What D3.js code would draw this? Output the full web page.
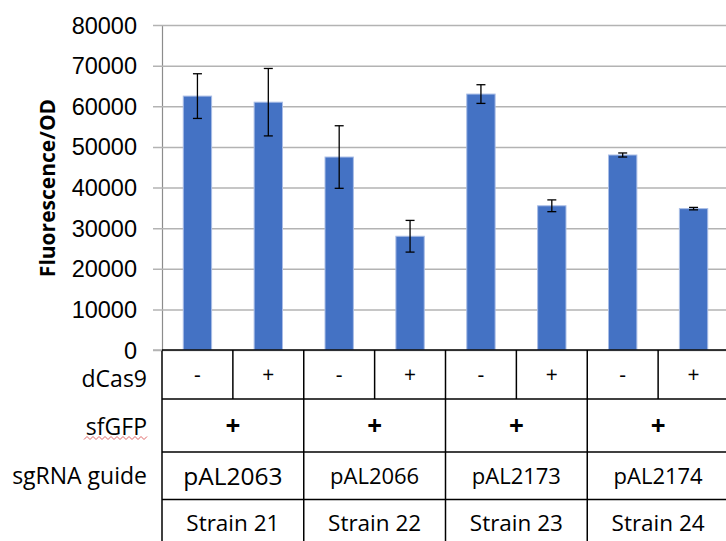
<!DOCTYPE html>
<html>
<head>
<meta charset="utf-8">
<script src="https://cdn.jsdelivr.net/npm/d3@7"></script>
<style>
  html, body { margin: 0; padding: 0; background: #fff; }
  svg { display: block; font-family: "Open Sans", Lato, sans-serif; }
</style>
</head>
<body>
<svg id="chart" width="726" height="541"></svg>
<script>
// Fluorescence/OD per strain, without (-) and with (+) dCas9
const strains   = ["Strain 21", "Strain 22", "Strain 23", "Strain 24"];
const guides    = ["pAL2063", "pAL2066", "pAL2173", "pAL2174"];
const sfGFP     = ["+", "+", "+", "+"];
const dCas9     = ["-", "+", "-", "+", "-", "+", "-", "+"];
const values    = [62500, 61000, 47500, 28000, 63000, 35500, 48000, 34800];
const errors    = [5500, 8300, 7700, 3900, 2300, 1450, 500, 300];
const yTicks    = [0, 10000, 20000, 30000, 40000, 50000, 60000, 70000, 80000];

const bars = values.map((v, i) => ({ id: i, strain: Math.floor(i / 2), dcas9: dCas9[i], value: v, err: errors[i] }));

const svg = d3.select("#chart");
const plotLeft = 162, plotRight = 729, plotTop = 25, base = 350;

const x = d3.scaleBand().domain(bars.map(d => d.id)).range([plotLeft, plotRight])
  .paddingInner(0.6).paddingOuter(0.3);
const xStrain = d3.scaleBand().domain(d3.range(strains.length)).range([plotLeft, plotRight]);
const y = d3.scaleLinear().domain([0, 80000]).range([base, plotTop]);

// horizontal gridlines with short ticks left of the axis
const yAxis = d3.axisLeft(y).tickValues(yTicks).tickFormat(d3.format("d"))
  .tickSize(-(726 - plotLeft)).tickSizeOuter(0);
const gy = svg.append("g").attr("transform", `translate(${plotLeft},0)`).call(yAxis);
gy.select(".domain").attr("stroke", "#8c8c8c").attr("stroke-width", 1.2);
gy.selectAll(".tick line").attr("stroke", "#b3b3b3").attr("stroke-width", 1.5).attr("x1", -9);
gy.selectAll(".tick text").attr("font-size", 23.5).attr("fill", "#000").attr("x", -25).attr("dy", "0.34em");

// y axis title
svg.append("text")
  .attr("transform", "translate(55,188) rotate(-90)")
  .attr("text-anchor", "middle")
  .attr("font-size", 21).attr("font-weight", "bold")
  .text("Fluorescence/OD");

// bars
svg.append("g").selectAll("rect").data(bars).join("rect")
  .attr("x", d => x(d.id)).attr("width", x.bandwidth())
  .attr("y", d => y(d.value)).attr("height", d => y(0) - y(d.value))
  .attr("fill", "#4472c4").attr("stroke", "#a9bde6").attr("stroke-width", 1);

// error bars
const eb = svg.append("g").attr("stroke", "#000").attr("stroke-width", 1.3);
bars.forEach(d => {
  const cx = x(d.id) + x.bandwidth() / 2;
  eb.append("line").attr("x1", cx).attr("x2", cx).attr("y1", y(d.value + d.err)).attr("y2", y(d.value - d.err));
  eb.append("line").attr("x1", cx - 4.5).attr("x2", cx + 4.5).attr("y1", y(d.value + d.err)).attr("y2", y(d.value + d.err));
  eb.append("line").attr("x1", cx - 4.5).attr("x2", cx + 4.5).attr("y1", y(d.value - d.err)).attr("y2", y(d.value - d.err));
});

// data table beneath the axis
const rows = [base, 399, 452, 499.5];
const table = svg.append("g").attr("stroke", "#000").attr("stroke-width", 1.5);
rows.forEach(ry => table.append("line").attr("x1", plotLeft).attr("x2", plotRight).attr("y1", ry).attr("y2", ry));
d3.range(strains.length + 1).forEach(i => {
  const sx = i < strains.length ? xStrain(i) : plotRight;
  table.append("line").attr("x1", sx).attr("x2", sx).attr("y1", base).attr("y2", 541);
});
d3.range(strains.length).forEach(i => {
  const sx = xStrain(i) + xStrain.bandwidth() / 2;
  table.append("line").attr("x1", sx).attr("x2", sx).attr("y1", base).attr("y2", rows[1]);
});
svg.append("line").attr("x1", 153).attr("x2", plotLeft).attr("y1", base).attr("y2", base)
  .attr("stroke", "#b3b3b3").attr("stroke-width", 1.5);

const mid = (a, b) => (a + b) / 2;
const cells = svg.append("g").attr("text-anchor", "middle").attr("fill", "#000");
bars.forEach(d => {
  cells.append("text").attr("x", x(d.id) + x.bandwidth() / 2).attr("y", mid(rows[0], rows[1]))
    .attr("dy", "0.36em").attr("font-size", 21).text(d.dcas9);
});
strains.forEach((s, i) => {
  const cx = xStrain(i) + xStrain.bandwidth() / 2;
  cells.append("text").attr("x", cx).attr("y", mid(rows[1], rows[2]))
    .attr("dy", "0.36em").attr("font-size", 26).attr("font-weight", "bold").text(sfGFP[i]);
  cells.append("text").attr("x", cx).attr("y", mid(rows[2], rows[3]))
    .attr("dy", "0.36em").attr("font-size", i === 0 ? 24.5 : 22).text(guides[i]);
  cells.append("text").attr("x", cx).attr("y", 523)
    .attr("dy", "0.36em").attr("font-size", 22.5).text(s);
});

// row headers
const heads = svg.append("g").attr("text-anchor", "end").attr("font-size", 23);
heads.append("text").attr("x", 147).attr("y", 387).text("dCas9");
heads.append("text").attr("x", 147).attr("y", 427).attr("dy", "0.36em").text("sfGFP");
heads.append("text").attr("x", 147).attr("y", 476).attr("dy", "0.36em").text("sgRNA guide");

// spell-check squiggle under sfGFP
const sq = d3.range(0, 22).map(k => [84 + k * 3, k % 2 ? 436.5 : 439.5]);
svg.append("path").attr("d", d3.line()(sq)).attr("fill", "none").attr("stroke", "#e06666").attr("stroke-width", 1);
</script>
</body>
</html>
